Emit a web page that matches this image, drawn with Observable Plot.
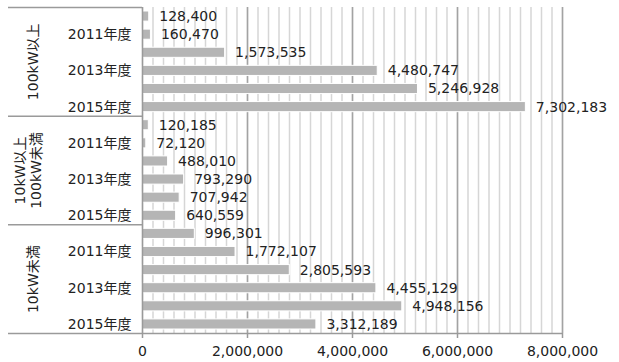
<!DOCTYPE html>
<html>
<head>
<meta charset="utf-8">
<script src="https://cdn.jsdelivr.net/npm/d3@7"></script>
<script src="https://cdn.jsdelivr.net/npm/@observablehq/plot@0.6"></script>
<style>
  html, body { margin: 0; padding: 0; background: #fff; }
</style>
</head>
<body>
<div id="chart"></div>
<script>
const categories = ["100kW以上", "10kW以上\n100kW未満", "10kW未満"];
const years = [2010, 2011, 2012, 2013, 2014, 2015];
const labeledYears = [2011, 2013, 2015];
const values100kWOver = [128400, 160470, 1573535, 4480747, 5246928, 7302183];
const values10to100kW = [120185, 72120, 488010, 793290, 707942, 640559];
const values10kWUnder = [996301, 1772107, 2805593, 4455129, 4948156, 3312189];
const majorTicks = [0, 2000000, 4000000, 6000000, 8000000];
const minorTicks = d3.range(0, 8000001, 200000);

const seriesValues = [values100kWOver, values10to100kW, values10kWUnder];
const rows = [];
categories.forEach((cat, gi) => {
  years.forEach((yr, yi) => {
    rows.push({group: cat, gi, year: yr, i: gi * years.length + yi, value: seriesValues[gi][yi]});
  });
});
const nRows = rows.length;
const groupInfo = categories.map((c, gi) => ({name: c, gi, start: gi * years.length, mid: gi * years.length + years.length / 2}));
const fmt = d3.format(",");

const chart = Plot.plot({
  width: 619,
  height: 362,
  marginLeft: 142,
  marginRight: 57,
  marginTop: 7,
  marginBottom: 29,
  style: {fontFamily: "'DejaVu Sans', 'Noto Sans CJK JP', sans-serif", fontSize: "14px", color: "#222", background: "#fff"},
  x: {type: "linear", domain: [0, 8000000], axis: null},
  y: {type: "linear", domain: [0, nRows], reverse: true, axis: null},
  marks: [
    Plot.ruleX(minorTicks, {stroke: "#d6d6d6", strokeWidth: 1.5}),
    Plot.ruleX(majorTicks.filter(d => d > 0), {stroke: "#a3a3a3", strokeWidth: 1.5}),
    Plot.rect(rows, {x1: 0, x2: "value", y1: d => d.i, y2: d => d.i + 1, insetTop: 4, insetBottom: 4, fill: "#b5b5b5", stroke: "#fff", strokeWidth: 1}),
    Plot.ruleX([0], {stroke: "#9a9a9a", strokeWidth: 1.5}),
    Plot.ruleY(groupInfo, {y: "start", x1: 0, x2: 0, insetLeft: -134, stroke: "#9a9a9a", strokeWidth: 1.5}),
    Plot.ruleY([nRows], {y: d => d, x1: 0, x2: 8000000, insetLeft: -134, stroke: "#9a9a9a", strokeWidth: 1.5}),
    Plot.ruleX(majorTicks, {x: d => d, y1: nRows, y2: nRows, insetBottom: -5, stroke: "#9a9a9a", strokeWidth: 1.5}),
    Plot.text(majorTicks, {x: d => d, text: d => fmt(d), frameAnchor: "bottom", lineAnchor: "middle", dy: 18.5, fill: "#222"}),
    Plot.text(rows.filter(d => labeledYears.includes(d.year)), {y: d => d.i + 0.5, text: d => d.year + "年度", frameAnchor: "left", textAnchor: "end", dx: -11, fill: "#222"}),
    Plot.text(groupInfo.filter(d => !d.name.includes("\n")), {y: "mid", text: "name", frameAnchor: "left", textAnchor: "middle", lineAnchor: "middle", dx: -109, rotate: -90, fill: "#222"}),
    Plot.text(groupInfo.filter(d => d.name.includes("\n")), {y: "mid", text: "name", frameAnchor: "left", textAnchor: "middle", lineAnchor: "middle", dx: -115, rotate: -90, lineHeight: 1.15, fill: "#222"}),
    Plot.text(rows, {x: "value", y: d => d.i + 0.5, text: d => fmt(d.value), dx: 10, textAnchor: "start", fill: "#222"})
  ]
});
document.getElementById("chart").appendChild(chart);
</script>
</body>
</html>
